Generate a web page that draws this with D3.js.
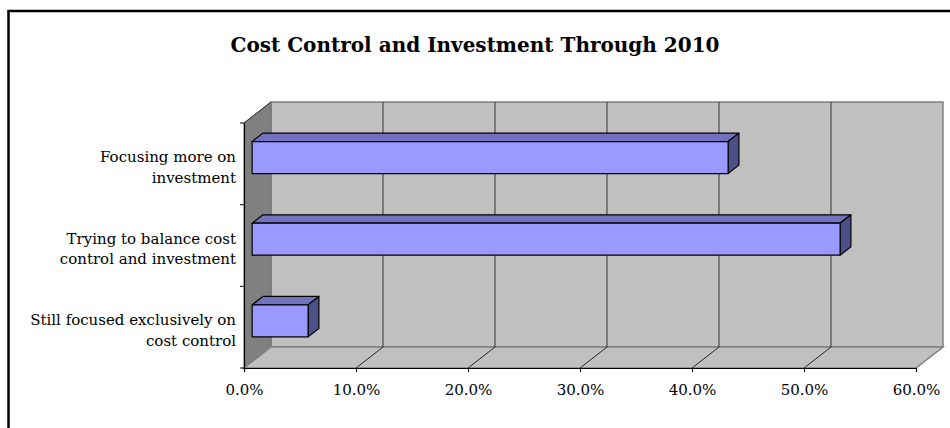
<!DOCTYPE html>
<html>
<head>
<meta charset="utf-8">
<script src="https://cdn.jsdelivr.net/npm/d3@7"></script>
<style>
  html, body { margin: 0; padding: 0; background: #fff; }
  svg { display: block; }
  text { font-family: "DejaVu Serif", Georgia, serif; fill: #000; }
</style>
</head>
<body>
<svg id="chart" width="950" height="428"></svg>
<script>
// Chart data
const title = "Cost Control and Investment Through 2010";
const categories = [
  ["Focusing more on", "investment"],
  ["Trying to balance cost", "control and investment"],
  ["Still focused exclusively on", "cost control"]
];
const values = [0.425, 0.525, 0.05];
const xTicks = [0, 0.1, 0.2, 0.3, 0.4, 0.5, 0.6];

const svg = d3.select("#chart");
const W = 950, H = 428;

// Front plane of the 3-D plot area and the depth offset of the back wall
const front = { left: 244, right: 916, top: 123, bottom: 368 };
const depth = { dx: 27, dy: -21 };

const x = d3.scaleLinear().domain([0, 0.6]).range([front.left, front.right]);
const y = d3.scaleBand().domain(d3.range(categories.length)).range([front.top, front.bottom]).padding(0);

// project a point given value-position px, front-plane py and depth fraction d
const P = (px, py, d) => [px + d * depth.dx, py + d * depth.dy];
const poly = pts => "M" + pts.map(p => p.join(",")).join("L") + "Z";

// Outer frame
svg.append("rect")
  .attr("x", 8.5).attr("y", 11).attr("width", W + 10).attr("height", H + 10)
  .attr("fill", "none").attr("stroke", "#000").attr("stroke-width", 2.5);

// Title
svg.append("text")
  .attr("x", 475).attr("y", 52)
  .attr("text-anchor", "middle")
  .attr("font-size", 20).attr("font-weight", "bold")
  .text(title);

const g = svg.append("g");
const x0 = x(0), x1 = x(0.6);

// Back wall
g.append("path")
  .attr("d", poly([P(x0, front.top, 1), P(x1, front.top, 1), P(x1, front.bottom, 1), P(x0, front.bottom, 1)]))
  .attr("fill", "#C0C0C0").attr("stroke", "#808080").attr("stroke-width", 1.5);

// Side wall
g.append("path")
  .attr("d", poly([P(x0, front.top, 0), P(x0, front.top, 1), P(x0, front.bottom, 1), P(x0, front.bottom, 0)]))
  .attr("fill", "#808080").attr("stroke", "#707070").attr("stroke-width", 1);

// Floor
g.append("path")
  .attr("d", poly([P(x0, front.bottom, 0), P(x1, front.bottom, 0), P(x1, front.bottom, 1), P(x0, front.bottom, 1)]))
  .attr("fill", "#C0C0C0").attr("stroke", "#808080").attr("stroke-width", 1.5);

// Gridlines on back wall and floor
const inner = xTicks.filter(t => t > 0 && t < 0.6);
g.selectAll(".gridBack").data(inner).join("line")
  .attr("x1", t => P(x(t), front.top, 1)[0]).attr("y1", t => P(x(t), front.top, 1)[1])
  .attr("x2", t => P(x(t), front.bottom, 1)[0]).attr("y2", t => P(x(t), front.bottom, 1)[1])
  .attr("stroke", "#333").attr("stroke-width", 1);
g.selectAll(".gridFloor").data(inner).join("line")
  .attr("x1", t => P(x(t), front.bottom, 0)[0]).attr("y1", t => P(x(t), front.bottom, 0)[1])
  .attr("x2", t => P(x(t), front.bottom, 1)[0]).attr("y2", t => P(x(t), front.bottom, 1)[1])
  .attr("stroke", "#222").attr("stroke-width", 1);
// Side wall top edge
g.append("line")
  .attr("x1", P(x0, front.top, 0)[0]).attr("y1", P(x0, front.top, 0)[1])
  .attr("x2", P(x0, front.top, 1)[0]).attr("y2", P(x0, front.top, 1)[1])
  .attr("stroke", "#333").attr("stroke-width", 1);

// 3-D bars
const d0 = 0.3, d1 = 0.7, barFrac = 0.392;
const bars = g.selectAll(".bar").data(values).join("g");
bars.each(function(v, i) {
  const sel = d3.select(this);
  const cy = y(i) + y.bandwidth() / 2;
  const hh = y.bandwidth() * barFrac / 2;
  const top = cy - hh, bot = cy + hh;
  const xl = x(0), xr = x(v);
  const faces = [
    { pts: [P(xl, top, d0), P(xr, top, d0), P(xr, top, d1), P(xl, top, d1)], fill: "#7373BD" },
    { pts: [P(xr, top, d0), P(xr, top, d1), P(xr, bot, d1), P(xr, bot, d0)], fill: "#4F4F88" },
    { pts: [P(xl, top, d0), P(xr, top, d0), P(xr, bot, d0), P(xl, bot, d0)], fill: "#9999FF" }
  ];
  sel.selectAll("path").data(faces).join("path")
    .attr("d", f => poly(f.pts))
    .attr("fill", f => f.fill)
    .attr("stroke", "#000").attr("stroke-width", 1.2)
    .attr("stroke-linejoin", "round");
});

// Value axis along the front edge of the floor
const xAxis = d3.axisBottom(x).tickValues(xTicks).tickFormat(d3.format(".1%")).tickSize(4).tickPadding(12);
const gx = svg.append("g").attr("transform", `translate(0,${front.bottom})`).call(xAxis);
gx.select(".domain").attr("stroke", "#000").attr("stroke-width", 1.2);
gx.selectAll(".tick line").attr("stroke", "#000");
gx.selectAll(".tick text").attr("font-size", 15).attr("font-family", "DejaVu Serif, serif");

// Category axis along the front edge of the side wall
const yAxis = d3.axisLeft(y).tickSize(0).tickFormat("");
const gy = svg.append("g").attr("transform", `translate(${front.left},0)`).call(yAxis);
gy.select(".domain").attr("stroke", "#000").attr("stroke-width", 1.2);
const bounds = [front.top, ...categories.map((c, i) => y(i) + y.bandwidth())];
gy.selectAll(".sep").data(bounds).join("line")
  .attr("x1", -4).attr("x2", 0).attr("y1", b => b).attr("y2", b => b)
  .attr("stroke", "#000");

const labels = svg.append("g");
categories.forEach((lines, i) => {
  const cy = y(i) + y.bandwidth() / 2;
  const t = labels.append("text")
    .attr("text-anchor", "end")
    .attr("font-size", 15);
  lines.forEach((ln, k) => {
    t.append("tspan")
      .attr("x", 236)
      .attr("y", cy + (k - (lines.length - 1) / 2) * 20.5 + 8.5)
      .text(ln);
  });
});
</script>
</body>
</html>
